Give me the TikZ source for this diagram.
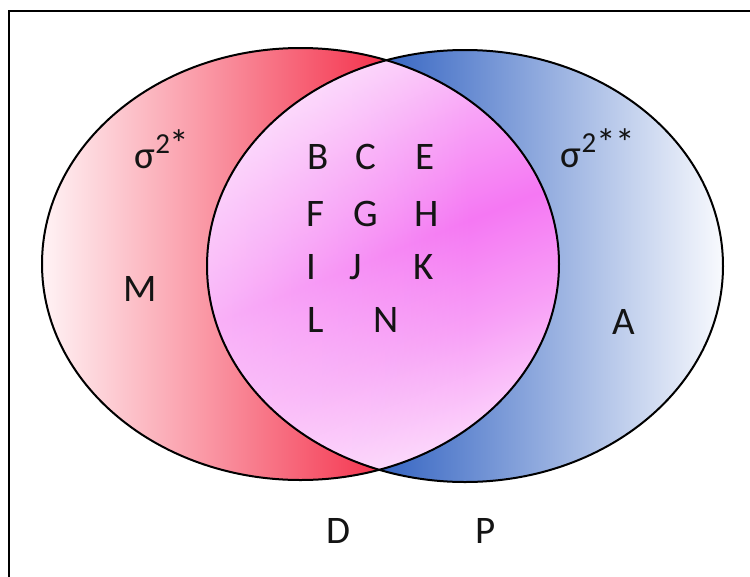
\documentclass[tikz,border=0pt]{standalone}
\usepackage{fontspec}
\setmainfont{Carlito}
\usetikzlibrary{fadings}
\definecolor{redW}{HTML}{FFF4F6}
\definecolor{redS}{HTML}{F4314B}
\definecolor{blueS}{HTML}{3464C2}
\definecolor{blueW}{HTML}{FAFBFE}
\definecolor{magc}{HTML}{F46CF2}
\pgfdeclareverticalshading{lensband}{100bp}{color(0bp)=(white); color(12.5bp)=(magc!8!white); color(25bp)=(magc!30!white); color(37.5bp)=(magc!65!white); color(50bp)=(magc!92!white); color(62.5bp)=(magc!62!white); color(75bp)=(magc!28!white); color(87.5bp)=(magc!6!white); color(100bp)=(white)}
\begin{document}
\begin{tikzpicture}[x=1pt,y=-1pt,
  lbl/.style={font=\fontsize{39}{42}\selectfont, text=black!92, inner sep=0pt},
  sup/.style={font=\fontsize{39}{42}\selectfont, text=black!92, inner sep=0pt},
  rim/.style={draw=black, line width=2pt}]
\useasboundingbox (0,0) rectangle (750,576);
\fill[white] (0,0) rectangle (750,576);
% frame (left and top edges visible)
\draw[line width=2.2pt] (9,600) -- (9,11) -- (770,11);
% left crescent
\begin{scope}
  \clip (300.5,264) ellipse (258.5 and 216);
  \shade[left color=redW, right color=redS] (40,40) rectangle (388,490);
\end{scope}
% right crescent
\begin{scope}
  \clip (465,266) ellipse (258 and 216);
  \shade[left color=blueS, right color=blueW] (378,40) rectangle (726,490);
\end{scope}
% lens
\begin{scope}
  \clip (300.5,264) ellipse (258.5 and 216);
  \clip (465,266) ellipse (258 and 216);
  \fill[white] (200,50) rectangle (570,480);
  \begin{scope}[transform canvas={rotate around={22:(450,228)}}]
    \shade[shading=lensband] (50,28) rectangle (850,428);
  \end{scope}
  \fill[white, fill opacity=0.5, path fading=east] (170,50) rectangle (470,480);
\end{scope}
% outlines
\draw[rim] (300.5,264) ellipse (258.5 and 216);
\draw[rim] (465,266) ellipse (258 and 216);
% labels
\node[sup] (s1) at (162,149) {σ\raisebox{0.38em}{\fontsize{29}{29}\selectfont 2\raisebox{-0.12em}{\scalebox{1.35}{*}}}};
\node[sup] (s2) at (598,148) {σ\raisebox{0.38em}{\fontsize{29}{29}\selectfont 2\raisebox{-0.12em}{\scalebox{1.35}{*}}\raisebox{-0.12em}{\scalebox{1.35}{*}}}};
\node[lbl] (M) at (140,289) {M};
\node[lbl] (A) at (624,322) {A};
\node[lbl] (B) at (318,157) {B};
\node[lbl] (C) at (366,157) {C};
\node[lbl] (E) at (425,157) {E};
\node[lbl] (F) at (315,214) {F};
\node[lbl] (G) at (366,214) {G};
\node[lbl] (H) at (427,214) {H};
\node[lbl] (I) at (311,267) {I};
\node[lbl] (J) at (356,267) {J};
\node[lbl] (K) at (424,267) {K};
\node[lbl] (L) at (316,320) {L};
\node[lbl] (N) at (386,320) {N};
\node[lbl] (D) at (338,531) {D};
\node[lbl] (P) at (486,531) {P};
\end{tikzpicture}
\end{document}
